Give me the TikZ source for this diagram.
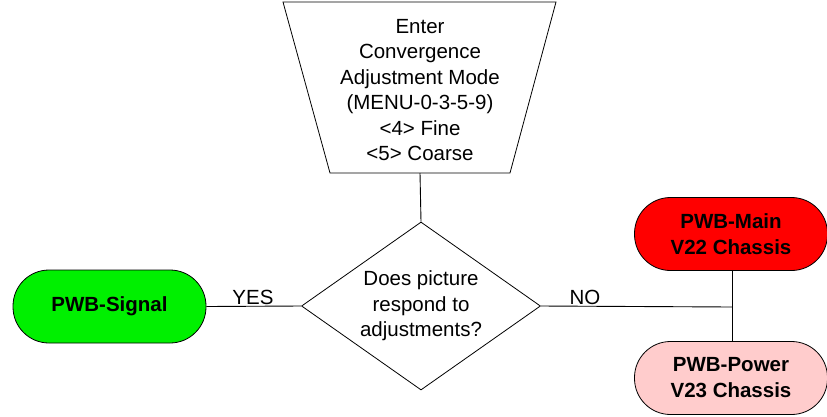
\documentclass[tikz,border=0pt]{standalone}
\usepackage{fontspec}
\setmainfont{Liberation Sans}
\usetikzlibrary{shapes.geometric}
\definecolor{sgreen}{RGB}{0,240,0}
\definecolor{sred}{RGB}{255,0,0}
\definecolor{spink}{RGB}{255,204,204}
\tikzset{
  txt/.style={font=\fontsize{20.5}{25.4}\selectfont, align=center},
  pill/.style={draw, line width=0.8pt, rounded corners=36pt, minimum width=193pt, minimum height=73pt, inner sep=0pt,
     font=\fontsize{20.5}{26}\selectfont\bfseries, align=center},
  conn/.style={line width=0.9pt},
  lbl/.style={font=\fontsize{20.5}{24}\selectfont, anchor=base, inner sep=0pt},
}
\begin{document}
\begin{tikzpicture}[x=1pt,y=-1pt]
\useasboundingbox (0,0) rectangle (827,416);
% trapezoid
\coordinate (tl) at (283,2);
\coordinate (tr) at (556,2);
\coordinate (br) at (510,173);
\coordinate (bl) at (330,173);
\coordinate (tbot) at (420,173);
\draw[line width=0.8pt] (tl) -- (tr) -- (br) -- (bl) -- cycle;
\node[txt] (enter) at (420,90) {Enter\\Convergence\\Adjustment Mode\\(MENU-0-3-5-9)\\<4> Fine\\<5> Coarse};
% diamond
\node[draw, line width=0.8pt, diamond, aspect=1.417, minimum width=239pt, minimum height=168pt, inner sep=0pt] (dec) at (421,306) {};
\node[txt] (dtext) at (421,306) {Does picture\\respond to\\adjustments?};
% pills
\node[pill, fill=sgreen] (sig) at (109.5,306.5) {PWB-Signal};
\node[pill, fill=sred] (main) at (731,234) {PWB-Main\\V22 Chassis};
\node[pill, fill=spink] (power) at (731,378) {PWB-Power\\V23 Chassis};
% connectors
\coordinate (junc) at (732,307);
\draw[conn] (tbot) -- (dec.north);
\draw[conn] (dec.west) -- (sig.east);
\draw[conn] (dec.east) -- (junc);
\draw[conn] (main.south -| junc) -- (power.north -| junc);
\node[lbl] (yes) at (253,304) {YES};
\node[lbl] (no) at (585,304) {NO};
\end{tikzpicture}
\end{document}
